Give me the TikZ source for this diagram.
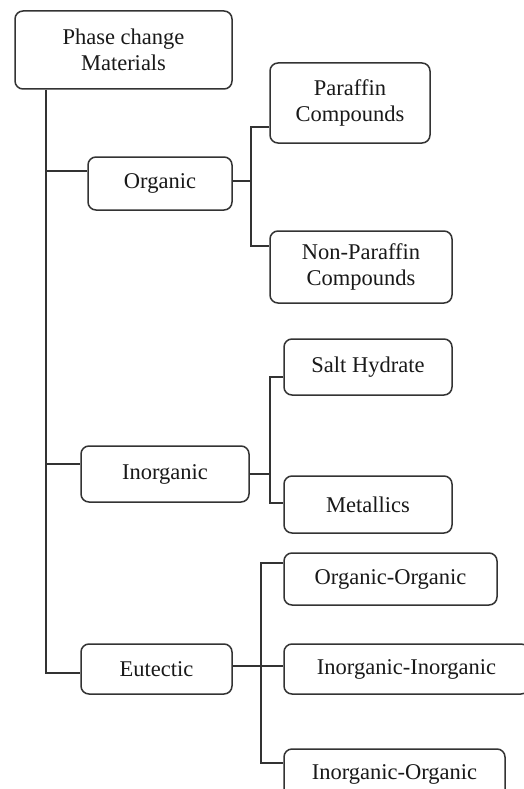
\documentclass[tikz,border=0pt]{standalone}
\usepackage{fontspec}
\setmainfont{Liberation Serif}
\begin{document}
\begin{tikzpicture}[x=1pt,y=-1pt,
  box/.style={draw=black!80, line width=1.5pt, rounded corners=8pt, align=center,
    inner sep=0pt, text=black!90, font=\fontsize{22.5}{25.5}\selectfont},
  conn/.style={draw=black!80, line width=1.5pt}]
\useasboundingbox[fill=white] (0,0) rectangle (523,789);
% nodes
\node[box, minimum width=217pt, minimum height=78pt] (root) at (123.5,50) {Phase change\\Materials};
\node[box, minimum width=144pt, minimum height=53pt] (organic) at (160,183.5) {Organic};
\node[box, minimum width=160pt, minimum height=80pt] (par) at (350,103) {Paraffin\\Compounds};
\node[box, minimum width=182pt, minimum height=72pt] (nonpar) at (361,267) {Non-Paraffin\\Compounds};
\node[box, minimum width=168pt, minimum height=56pt] (inorganic) at (165,474) {Inorganic};
\node[box, minimum width=168pt, minimum height=56pt] (salt) at (368,367) {Salt Hydrate};
\node[box, minimum width=168pt, minimum height=57pt] (metal) at (368,504.5) {Metallics};
\node[box, minimum width=151pt, minimum height=50pt] (eutectic) at (156.5,669) {Eutectic};
\node[box, minimum width=213pt, minimum height=52pt] (orgorg) at (390.5,579) {Organic-Organic};
\node[box, minimum width=245pt, minimum height=50pt] (inin) at (406.5,669) {Inorganic-Inorganic};
\node[box, minimum width=221pt, minimum height=50pt] (inorg) at (394.5,774) {Inorganic-Organic};
% bus coordinates
\coordinate (tk) at (46,0);
\coordinate (b1) at (251,0);
\coordinate (b2) at (270,0);
\coordinate (b3) at (261,0);
% attach points
\coordinate (orgL) at ([yshift=12.5pt]organic.west);
\coordinate (orgR) at ([yshift=2.5pt]organic.east);
\coordinate (parL) at ([yshift=-24pt]par.west);
\coordinate (npL) at ([yshift=21pt]nonpar.west);
\coordinate (inoL) at ([yshift=10pt]inorganic.west);
\coordinate (inoR) at (inorganic.east);
\coordinate (saltL) at ([yshift=-10pt]salt.west);
\coordinate (metL) at ([yshift=1.5pt]metal.west);
\coordinate (eutL) at ([yshift=-4pt]eutectic.west);
\coordinate (eutR) at ([yshift=3pt]eutectic.east);
\coordinate (ooL) at ([yshift=16pt]orgorg.west);
\coordinate (iiL) at ([yshift=3pt]inin.west);
\coordinate (ioL) at ([yshift=11pt]inorg.west);
% connectors
\draw[conn] (root.south -| tk) |- (eutL);
\draw[conn] (orgL -| tk) -- (orgL);
\draw[conn] (inoL -| tk) -- (inoL);
\draw[conn] (orgR) -- (orgR -| b1);
\draw[conn] (parL) -- (parL -| b1) -- (npL -| b1) -- (npL);
\draw[conn] (inoR) -- (inoR -| b2);
\draw[conn] (saltL) -- (saltL -| b2) -- (metL -| b2) -- (metL);
\draw[conn] (eutR) -- (iiL);
\draw[conn] (ooL) -- (ooL -| b3) -- (ioL -| b3) -- (ioL);
\end{tikzpicture}
\end{document}
